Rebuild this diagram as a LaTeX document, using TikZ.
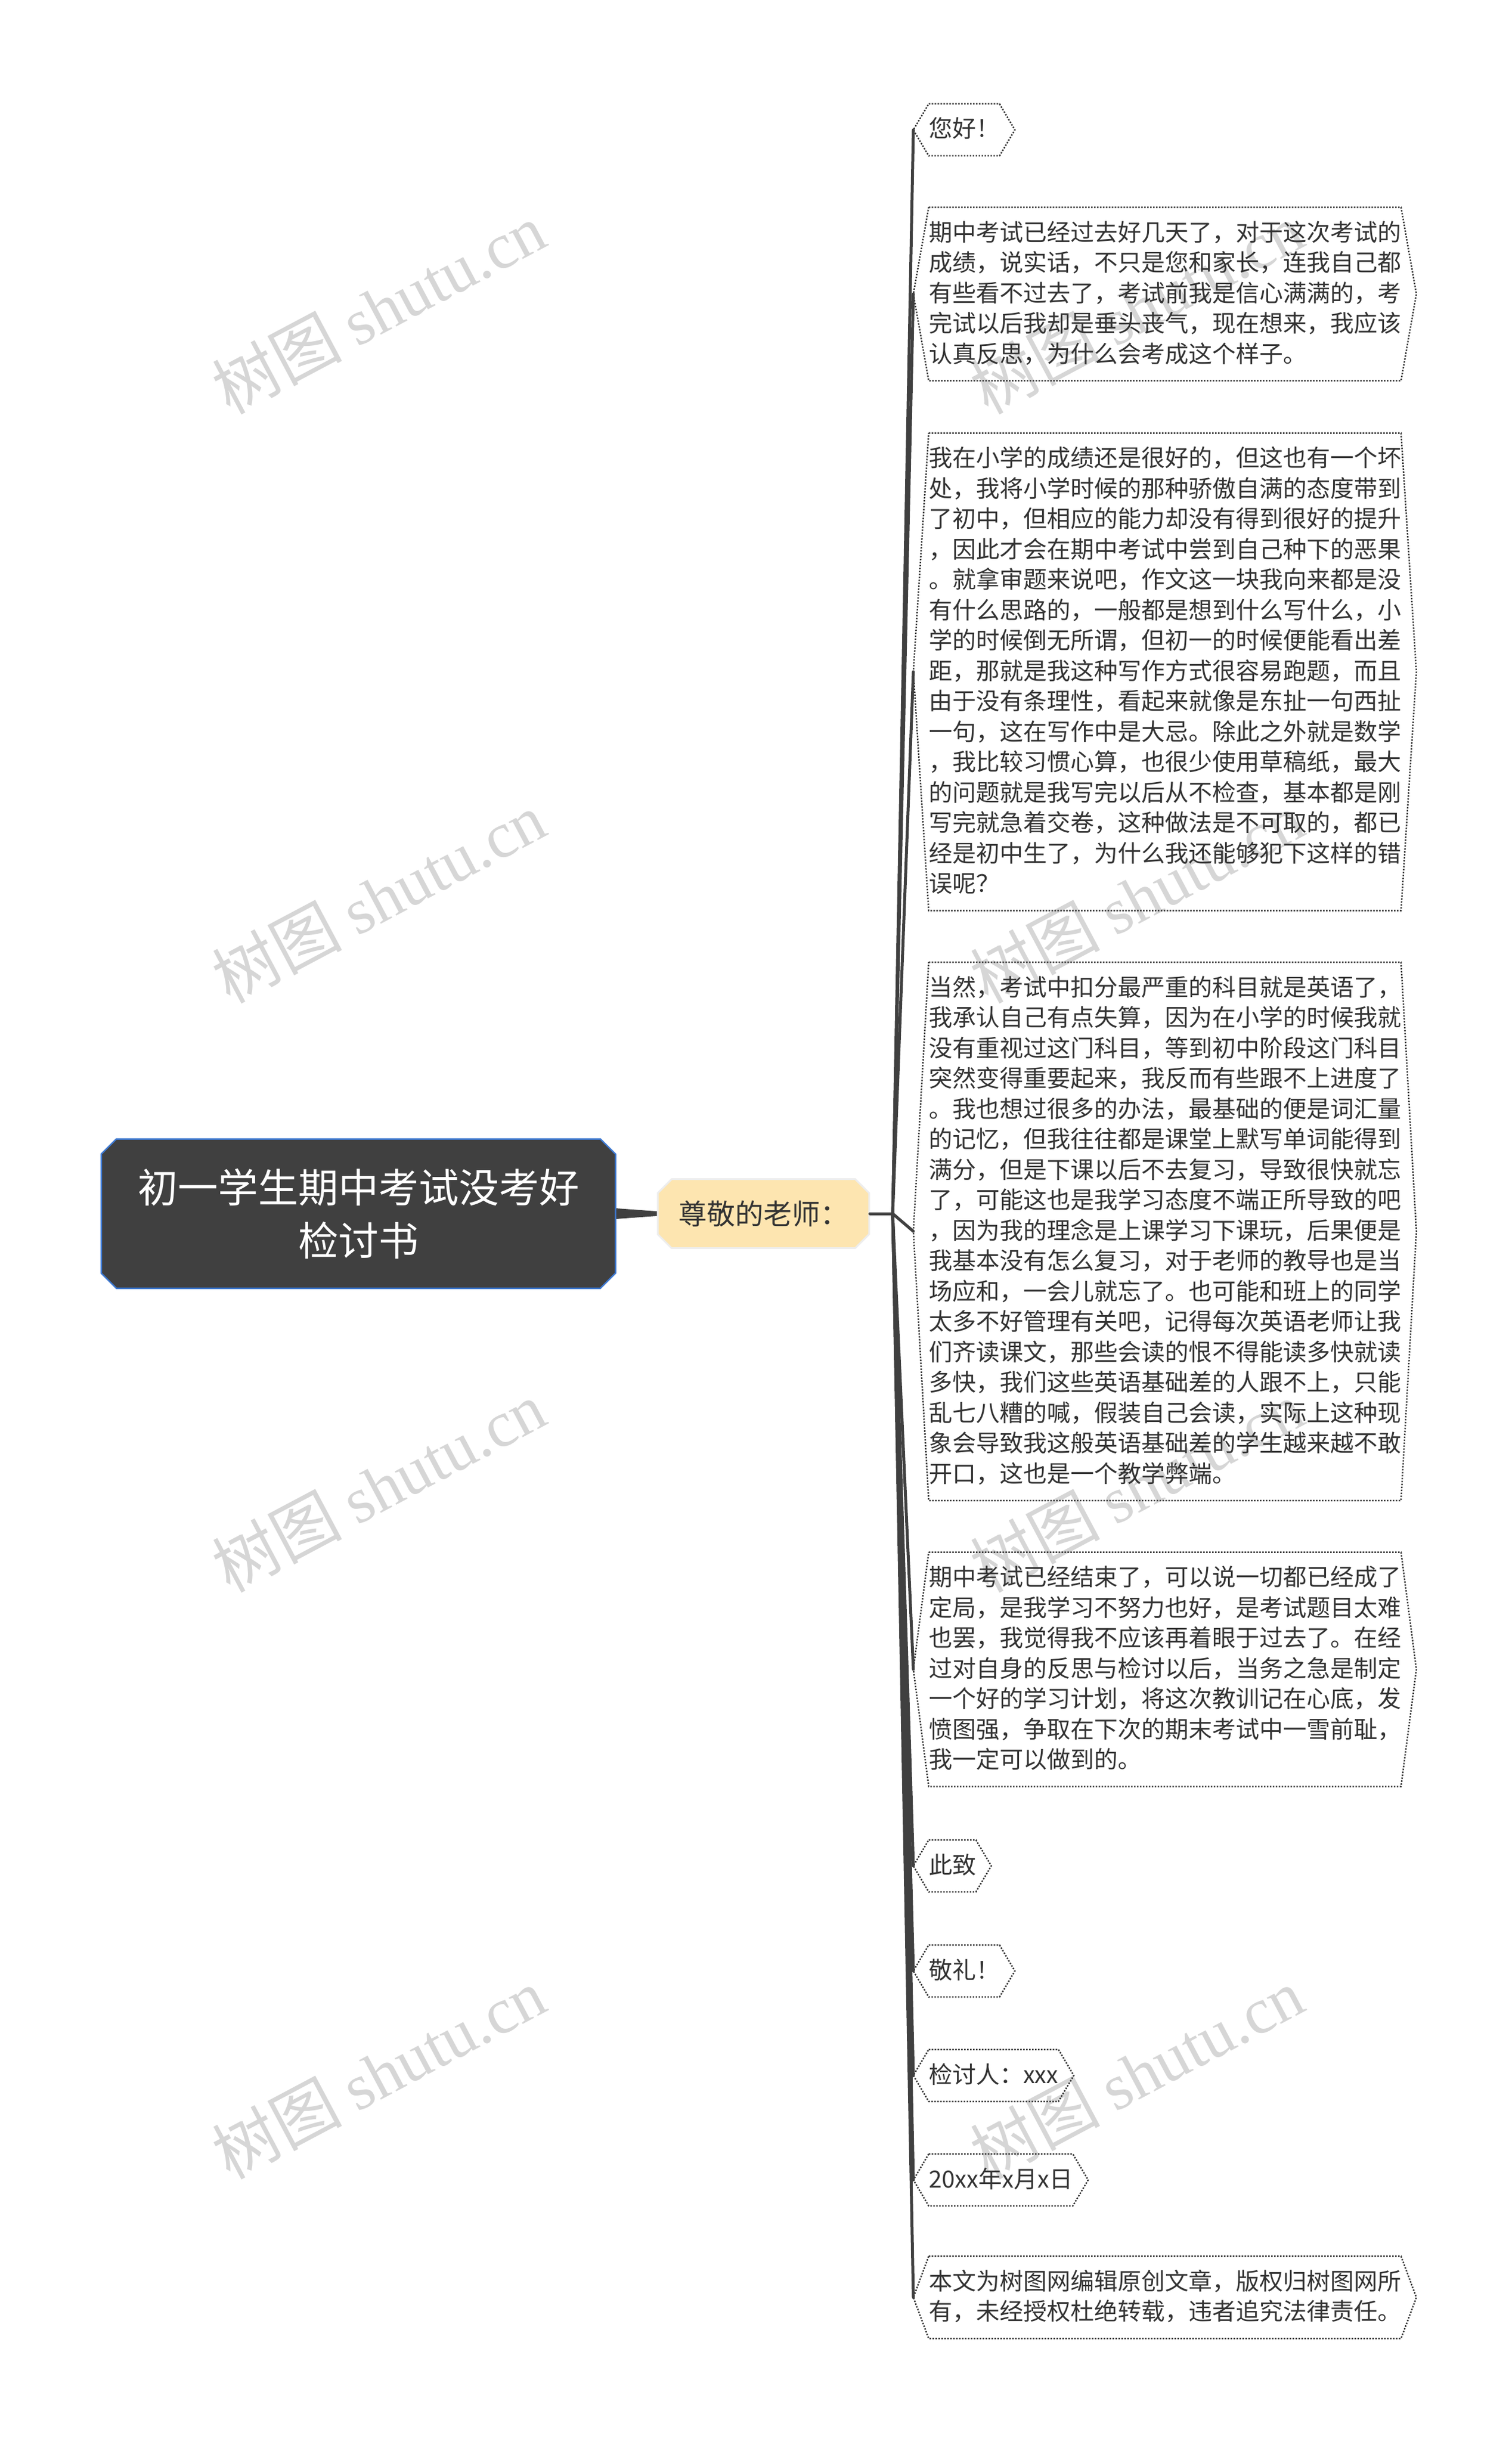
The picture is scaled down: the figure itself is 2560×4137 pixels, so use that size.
\documentclass[tikz,border=0pt]{standalone}
\usepackage{fontspec}
\setmainfont{Noto Sans CJK SC}
\newfontfamily\wmserif{Liberation Serif}
\usetikzlibrary{shapes.misc,calc}
\definecolor{rootfill}{HTML}{404040}
\definecolor{rootborder}{HTML}{3D78D0}
\definecolor{subfill}{HTML}{FDE5B0}
\definecolor{subborder}{HTML}{EDEDED}
\definecolor{txt}{HTML}{333333}
\definecolor{conn}{HTML}{404040}
\definecolor{wmgray}{HTML}{D6D6D6}
\newcommand\lstrut{\rule[-9pt]{0pt}{44pt}}
\tikzset{
  rootbox/.style={chamfered rectangle, chamfered rectangle xsep=22pt,
    fill=rootfill, draw=rootborder, line width=2.5pt, text=white,
    minimum width=871pt, minimum height=253pt, align=center,
    font=\fontsize{68}{90}\selectfont, inner sep=0pt},
  subbox/.style={chamfered rectangle, chamfered rectangle xsep=20pt,
    fill=subfill, draw=subborder, line width=3pt, text=txt,
    minimum width=358pt, minimum height=117pt,
    font=\fontsize{48}{60}\selectfont, inner sep=0pt},
  leaf/.style={rectangle, anchor=west, inner xsep=0pt, inner ysep=22pt,
    outer xsep=26pt, outer ysep=0pt, align=left, text=txt,
    font=\fontsize{40}{51.5}\selectfont},
  leafline/.style={draw=txt, line width=2.5pt, dash pattern=on 2.5pt off 2.5pt},
  connline/.style={draw=conn, line width=5pt, line cap=round},
  wm/.style={text=wmgray, rotate=28, font=\fontsize{110}{120}\selectfont, inner sep=0pt}
}
\begin{document}
\begin{tikzpicture}[x=1pt,y=-1pt]
\useasboundingbox (0,0) rectangle (2560,4137);
% watermarks
\foreach \wx/\wy/\wn in {641/522/wa,641/1520/wb,641/2518/wc,641/3512/wd,1925/522/we,1925/1520/wf,1925/2518/wg,1925/3512/wh}{
  \node[wm] (\wn) at (\wx,\wy) {树图 {\wmserif shutu.cn}};
}
% root and sub
\node[rootbox] (root) at (607,2056) {初一学生期中考试没考好\\检讨书};
\node[subbox] (sub) at (1293,2056) {尊敬的老师：};
\coordinate (br) at (1512,2056);
% children
\node[leaf] (c1) at (1547,220) {\lstrut 您好！\lstrut};
\node[leaf] (c2) at (1547,498) {\lstrut 期中考试已经过去好几天了，对于这次考试的\\
成绩，说实话，不只是您和家长，连我自己都\\
有些看不过去了，考试前我是信心满满的，考\\
完试以后我却是垂头丧气，现在想来，我应该\\
认真反思，为什么会考成这个样子。\lstrut};
\node[leaf] (c3) at (1547,1138) {\lstrut 我在小学的成绩还是很好的，但这也有一个坏\\
处，我将小学时候的那种骄傲自满的态度带到\\
了初中，但相应的能力却没有得到很好的提升\\
，因此才会在期中考试中尝到自己种下的恶果\\
。就拿审题来说吧，作文这一块我向来都是没\\
有什么思路的，一般都是想到什么写什么，小\\
学的时候倒无所谓，但初一的时候便能看出差\\
距，那就是我这种写作方式很容易跑题，而且\\
由于没有条理性，看起来就像是东扯一句西扯\\
一句，这在写作中是大忌。除此之外就是数学\\
，我比较习惯心算，也很少使用草稿纸，最大\\
的问题就是我写完以后从不检查，基本都是刚\\
写完就急着交卷，这种做法是不可取的，都已\\
经是初中生了，为什么我还能够犯下这样的错\\
误呢？\lstrut};
\node[leaf] (c4) at (1547,2086) {\lstrut 当然，考试中扣分最严重的科目就是英语了，\\
我承认自己有点失算，因为在小学的时候我就\\
没有重视过这门科目，等到初中阶段这门科目\\
突然变得重要起来，我反而有些跟不上进度了\\
。我也想过很多的办法，最基础的便是词汇量\\
的记忆，但我往往都是课堂上默写单词能得到\\
满分，但是下课以后不去复习，导致很快就忘\\
了，可能这也是我学习态度不端正所导致的吧\\
，因为我的理念是上课学习下课玩，后果便是\\
我基本没有怎么复习，对于老师的教导也是当\\
场应和，一会儿就忘了。也可能和班上的同学\\
太多不好管理有关吧，记得每次英语老师让我\\
们齐读课文，那些会读的恨不得能读多快就读\\
多快，我们这些英语基础差的人跟不上，只能\\
乱七八糟的喊，假装自己会读，实际上这种现\\
象会导致我这般英语基础差的学生越来越不敢\\
开口，这也是一个教学弊端。\lstrut};
\node[leaf] (c5) at (1547,2828) {\lstrut 期中考试已经结束了，可以说一切都已经成了\\
定局，是我学习不努力也好，是考试题目太难\\
也罢，我觉得我不应该再着眼于过去了。在经\\
过对自身的反思与检讨以后，当务之急是制定\\
一个好的学习计划，将这次教训记在心底，发\\
愤图强，争取在下次的期末考试中一雪前耻，\\
我一定可以做到的。\lstrut};
\node[leaf] (c6) at (1547,3161) {\lstrut 此致\lstrut};
\node[leaf] (c7) at (1547,3339) {\lstrut 敬礼！\lstrut};
\node[leaf] (c8) at (1547,3516) {\lstrut 检讨人：xxx\lstrut};
\node[leaf] (c9) at (1547,3693) {\lstrut 20xx年x月x日\lstrut};
\node[leaf] (c10) at (1547,3892) {\lstrut 本文为树图网编辑原创文章，版权归树图网所\\
有，未经授权杜绝转载，违者追究法律责任。\lstrut};
% leaf outlines
\foreach \n in {c1,c2,c3,c4,c5,c6,c7,c8,c9,c10}{
  \draw[leafline] ([xshift=26pt]\n.north west) -- ([xshift=-26pt]\n.north east) -- (\n.east)
    -- ([xshift=-26pt]\n.south east) -- ([xshift=26pt]\n.south west) -- (\n.west) -- cycle;
}
% connectors
\fill[conn] ([yshift=9pt]root.east) -- ([yshift=4pt]sub.west) -- ([yshift=-4pt]sub.west) -- ([yshift=-9pt]root.east) -- cycle;
\draw[connline] (sub.east) -- (br);
\foreach \n in {c1,c2,c3,c4,c5,c6,c7,c8,c9,c10}{
  \draw[connline] (br) -- (\n.west);
}
\end{tikzpicture}
\end{document}
